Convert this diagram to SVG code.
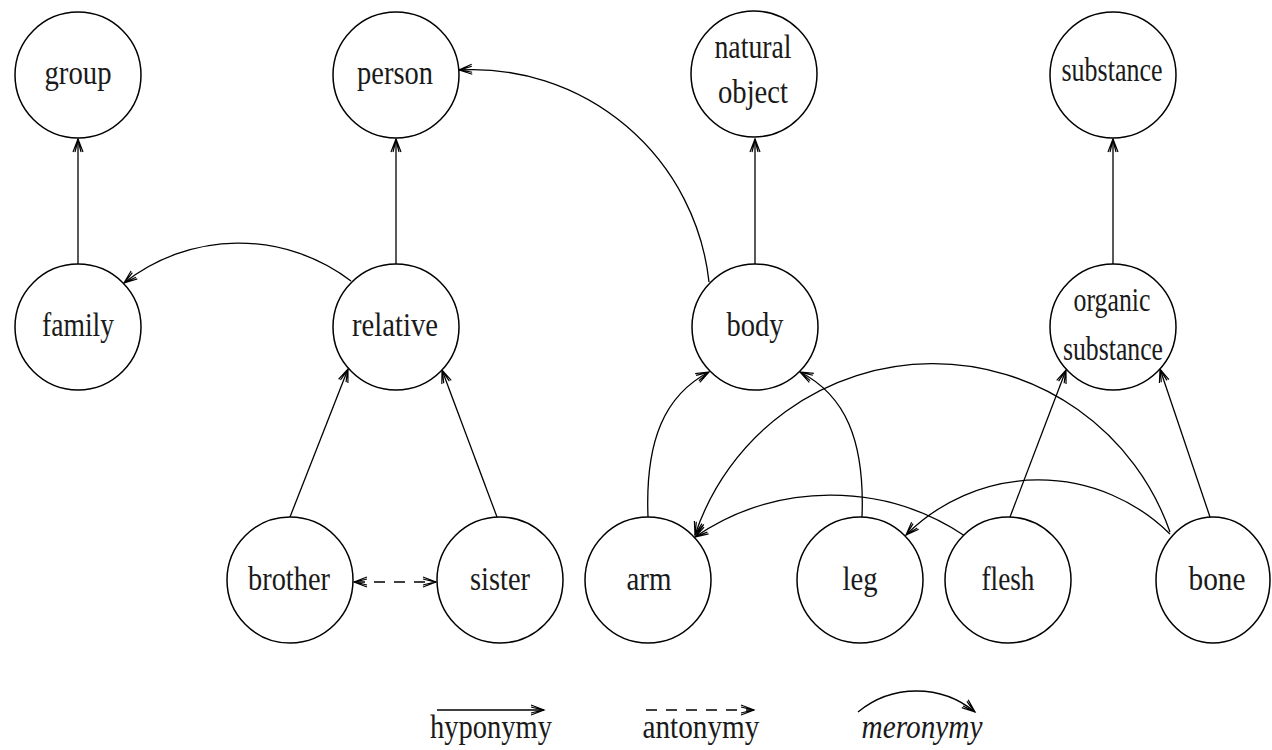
<svg xmlns="http://www.w3.org/2000/svg" width="1272" height="750" viewBox="0 0 1272 750">
<defs>
<style>
.n{fill:#fff;stroke:#000;stroke-width:1.5}
.t{font-family:"Liberation Serif","Times New Roman",serif;font-size:34px;fill:#1a1a1a;text-anchor:middle}
.i{font-style:italic}
.e{fill:none;stroke:#000;stroke-width:1.3}
.d{stroke-dasharray:11 9}
</style>
<marker id="ah" viewBox="-14 -7 16 14" refX="0" refY="0" markerWidth="16" markerHeight="14" markerUnits="userSpaceOnUse" orient="auto-start-reverse">
<path d="M-13,-5 L0,0 L-13,5 M-13,-3 L-1,0 L-13,3" fill="none" stroke="#000" stroke-width="1.2"/>
</marker>
</defs>
<rect width="1272" height="750" fill="#fff"/>
<g id="connectors">
<path class="e" d="M78,264 L78,139" marker-end="url(#ah)"/>
<path class="e" d="M396,264 L396,139" marker-end="url(#ah)"/>
<path class="e" d="M755,264 L755,139" marker-end="url(#ah)"/>
<path class="e" d="M1113,264 L1113,139" marker-end="url(#ah)"/>
<path class="e" d="M290,517 L348,369" marker-end="url(#ah)"/>
<path class="e" d="M497,517 L442,370" marker-end="url(#ah)"/>
<path class="e" d="M1010,517 L1066,370" marker-end="url(#ah)"/>
<path class="e" d="M1210,517 L1160,369" marker-end="url(#ah)"/>
<path class="e d" d="M354,582 L436,582" marker-start="url(#ah)" marker-end="url(#ah)"/>
<path class="e" d="M351,281 A185,185 0 0 0 124,283" marker-end="url(#ah)"/>
<path class="e" d="M709,282 A238,238 0 0 0 459,70" marker-end="url(#ah)"/>
<path class="e" d="M648,517 C645,440 665,395 709,372" marker-end="url(#ah)"/>
<path class="e" d="M862,517 C865,440 845,395 800,372" marker-end="url(#ah)"/>
<path class="e" d="M1170,532 A251,251 0 0 0 695,535" marker-end="url(#ah)"/>
<path class="e" d="M965,536 A241,241 0 0 0 695,537" marker-end="url(#ah)"/>
<path class="e" d="M1170,534 A187,187 0 0 0 906,535" marker-end="url(#ah)"/>
</g>
<g id="node-group"><circle class="n" cx="78" cy="75" r="63"/><text class="t" x="78" y="84" textLength="67" lengthAdjust="spacingAndGlyphs">group</text></g>
<g id="node-person"><circle class="n" cx="396" cy="75" r="63"/><text class="t" x="395" y="84" textLength="76" lengthAdjust="spacingAndGlyphs">person</text></g>
<g id="node-natural-object"><circle class="n" cx="754" cy="74" r="63"/><text class="t" x="753" y="58" textLength="77" lengthAdjust="spacingAndGlyphs">natural</text><text class="t" x="753" y="103" textLength="70" lengthAdjust="spacingAndGlyphs">object</text></g>
<g id="node-substance"><circle class="n" cx="1113" cy="75" r="63"/><text class="t" x="1112" y="81" textLength="101" lengthAdjust="spacingAndGlyphs">substance</text></g>
<g id="node-family"><circle class="n" cx="78" cy="327" r="63"/><text class="t" x="78" y="336" textLength="72" lengthAdjust="spacingAndGlyphs">family</text></g>
<g id="node-relative"><circle class="n" cx="396" cy="327" r="63"/><text class="t" x="395" y="336" textLength="86" lengthAdjust="spacingAndGlyphs">relative</text></g>
<g id="node-body"><circle class="n" cx="755" cy="327" r="63"/><text class="t" x="755" y="336" textLength="57" lengthAdjust="spacingAndGlyphs">body</text></g>
<g id="node-organic-substance"><circle class="n" cx="1113" cy="327" r="63"/><text class="t" x="1112" y="311" textLength="77" lengthAdjust="spacingAndGlyphs">organic</text><text class="t" x="1113" y="360" textLength="100" lengthAdjust="spacingAndGlyphs">substance</text></g>
<g id="node-brother"><circle class="n" cx="290" cy="580" r="63"/><text class="t" x="289" y="590" textLength="82" lengthAdjust="spacingAndGlyphs">brother</text></g>
<g id="node-sister"><circle class="n" cx="500" cy="580" r="63"/><text class="t" x="500" y="590" textLength="60" lengthAdjust="spacingAndGlyphs">sister</text></g>
<g id="node-arm"><circle class="n" cx="648" cy="580" r="63"/><text class="t" x="649" y="590" textLength="45" lengthAdjust="spacingAndGlyphs">arm</text></g>
<g id="node-leg"><circle class="n" cx="860" cy="580" r="63"/><text class="t" x="860" y="590" textLength="35" lengthAdjust="spacingAndGlyphs">leg</text></g>
<g id="node-flesh"><circle class="n" cx="1008" cy="580" r="63"/><text class="t" x="1008" y="590" textLength="53" lengthAdjust="spacingAndGlyphs">flesh</text></g>
<g id="node-bone"><ellipse class="n" cx="1213" cy="580" rx="57" ry="63"/><text class="t" x="1217" y="590" textLength="57" lengthAdjust="spacingAndGlyphs">bone</text></g>
<g id="legend">
<path class="e" d="M437,710 L544,710" marker-end="url(#ah)"/>
<text class="t" x="491" y="738" textLength="122" lengthAdjust="spacingAndGlyphs">hyponymy</text>
<path class="e d" d="M646,710 L754,710" marker-end="url(#ah)"/>
<text class="t" x="701" y="738" textLength="117" lengthAdjust="spacingAndGlyphs">antonymy</text>
<path class="e" d="M858,712 A92,92 0 0 1 975,712" marker-end="url(#ah)"/>
<text class="t i" x="922" y="738" textLength="121" lengthAdjust="spacingAndGlyphs">meronymy</text>
</g>
</svg>
